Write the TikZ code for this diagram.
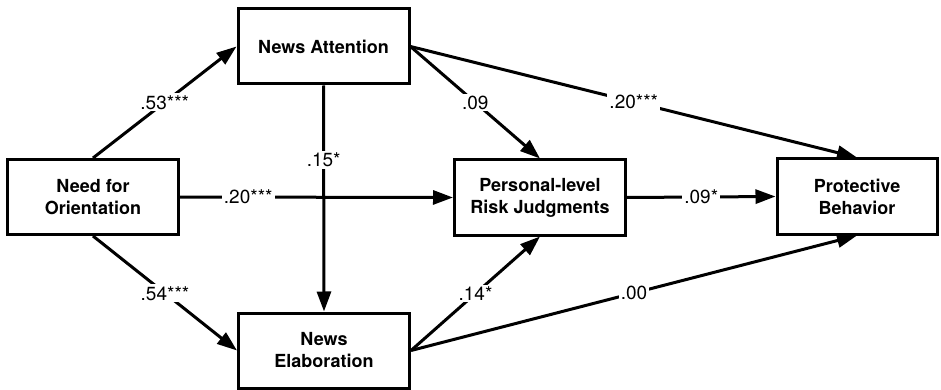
\documentclass[tikz,border=0pt]{standalone}
\usepackage{fontspec}
\setmainfont{TeX Gyre Heros}
\usetikzlibrary{arrows.meta}

\begin{document}
\begin{tikzpicture}[x=1pt,y=-1pt,line width=3pt,
    box/.style={draw,minimum width=171pt,minimum height=75pt,align=center,
      font=\bfseries\fontsize{18}{22}\selectfont},
    link/.style={-{Triangle[length=20pt,width=14pt]}},
    coef/.style={fill=white,inner sep=2pt,font=\fontsize{19}{21}\selectfont}]
  \useasboundingbox (0,0) rectangle (941,390);
  \node (nfo) [box] at (93,197) {Need for\\Orientation};
  \node (na) [box] at (323.5,46.5) {News Attention};
  \node (ne) [box] at (324,350.5) {News\\Elaboration};
  \node (prj) [box] at (540,197.5) {Personal-level\\Risk Judgments};
  \node (pb) [box,minimum width=160pt] at (857,196.5) {Protective\\Behavior};

  \draw[link] (nfo.north) -- (na.west) node [coef,midway] {.53***};
  \draw[link] (nfo.south) -- (ne.west) node [coef,midway] {.54***};
  \draw[link] (nfo.east) -- (prj.west) node [coef,pos=.25] {.20***};
  \draw[link] (na.south) -- (ne.north) node [coef,pos=.33] {.15*};
  \draw[link] (na.east) -- (prj.north) node [coef,midway] {.09};
  \draw[link] (na.east) -- (pb.north) node [coef,midway] {.20***};
  \draw[link] (ne.east) -- (prj.south) node [coef,midway] {.14*};
  \draw[link] (ne.east) -- (pb.south) node [coef,midway] {.00};
  \draw[link] (prj.east) -- (pb.west) node [coef,midway] {.09*};
\end{tikzpicture}
\end{document}
